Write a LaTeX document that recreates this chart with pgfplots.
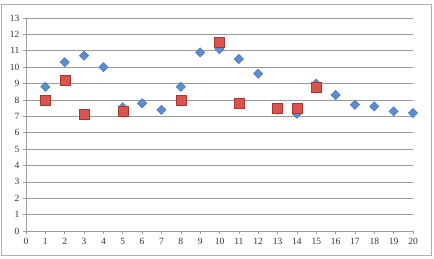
\documentclass[border=0pt]{standalone}
\usepackage{fontspec}
\setmainfont{Liberation Serif}
\usepackage{pgfplots}
\pgfplotsset{compat=1.18}
\definecolor{bluef}{HTML}{5B8DD0}
\definecolor{bluee}{HTML}{3F6EAE}
\definecolor{redf}{HTML}{D9534F}
\definecolor{rede}{HTML}{A83632}
\definecolor{gridc}{HTML}{9A9A9A}
\begin{document}
\begin{tikzpicture}
\useasboundingbox (-26pt,-27pt) rectangle (408pt,231pt);
\draw[gridc!80, line width=0.8pt] (-25pt,-24pt) rectangle (405pt,227pt);
\begin{axis}[
  scale only axis,
  width=387pt, height=213pt,
  xmin=0, xmax=20, ymin=0, ymax=13,
  axis x line=bottom, axis y line=left,
  axis line style={gridc, line width=0.6pt, -},
  xtick={0,...,20}, ytick={0,...,13},
  ymajorgrids, grid style={gridc, line width=0.6pt},
  tick style={gridc, line width=0.6pt},
  tick align=outside, major tick length=3pt,
  ticklabel style={font=\fontsize{9.5}{11}\selectfont, text=black!80},
  /pgf/number format/assume math mode=true,
  xticklabel shift=1pt, yticklabel shift=0pt,
  clip=false,
]
\addplot[only marks, mark=square*, mark size=3.3pt, mark options={rotate=45, fill=bluef, draw=bluee, line width=0.4pt}] coordinates {
(1,8.8) (2,10.3) (3,10.7) (4,10.0) (5,7.55) (6,7.8) (7,7.4) (8,8.8) (9,10.9) (10,11.1)
(11,10.5) (12,9.6) (13,7.4) (14,7.15) (15,9.0) (16,8.3) (17,7.7) (18,7.6) (19,7.3) (20,7.2)
};
\addplot[only marks, mark=square*, mark size=5pt, mark options={fill=redf, draw=rede, line width=0.4pt}] coordinates {
(1,8.0) (2,9.2) (3,7.1) (5,7.3) (8,8.0) (10,11.5) (11,7.8) (13,7.5) (14,7.5) (15,8.8)
};
\end{axis}
\end{tikzpicture}
\end{document}
